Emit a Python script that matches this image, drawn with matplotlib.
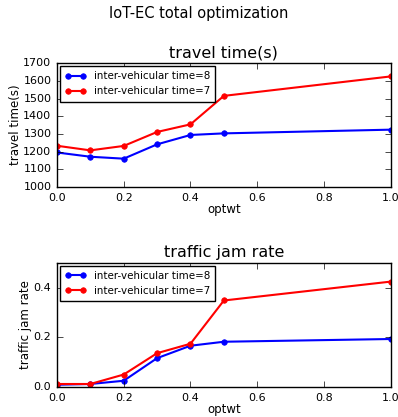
import matplotlib
matplotlib.use("Agg")
import matplotlib.pyplot as plt

optwt = [0.0, 0.1, 0.2, 0.3, 0.4, 0.5, 1.0]

travel_time_8 = [1195, 1171, 1160, 1241, 1294, 1303, 1324]
travel_time_7 = [1233, 1207, 1232, 1311, 1354, 1515, 1625]

jam_rate_8 = [0.009, 0.012, 0.025, 0.116, 0.166, 0.182, 0.193]
jam_rate_7 = [0.012, 0.012, 0.050, 0.136, 0.174, 0.348, 0.424]

labels = ["inter-vehicular time=8", "inter-vehicular time=7"]

plt.style.use("classic")
plt.rcParams.update({
    "figure.facecolor": "white",
    "savefig.facecolor": "white",
    "font.size": 8,
    "xtick.labelsize": 8,
    "ytick.labelsize": 8,
    "axes.labelsize": 8.5,
    "axes.titlesize": 11.5,
    "legend.fontsize": 7.4,
})

fig = plt.figure(figsize=(3.98, 4.17), dpi=100)
fig.suptitle("IoT-EC total optimization", fontsize=10.5, y=0.985)


def draw_panel(ax, ys8, ys7, title, ylabel):
    ax.plot(optwt, ys8, "b-o", lw=1.5, ms=4, mec="b", label=labels[0])
    ax.plot(optwt, ys7, "r-o", lw=1.5, ms=4, mec="r", label=labels[1])
    ax.set_xlim(0, 1)
    ax.set_title(title, pad=4)
    ax.set_xlabel("optwt", labelpad=0.5)
    ax.set_ylabel(ylabel, labelpad=1)
    ax.legend(loc="upper left", numpoints=2, borderaxespad=0.3,
              borderpad=0.5)


ax1 = fig.add_axes([0.143, 0.5516, 0.839, 0.297])
draw_panel(ax1, travel_time_8, travel_time_7, "travel time(s)", "travel time(s)")
ax1.set_ylim(1000, 1700)

ax2 = fig.add_axes([0.143, 0.0720, 0.839, 0.298])
draw_panel(ax2, jam_rate_8, jam_rate_7, "traffic jam rate", "traffic jam rate")
ax2.set_ylim(0, 0.5)
ax2.set_yticks([0.0, 0.2, 0.4])

fig.savefig("out.png", dpi=100)
